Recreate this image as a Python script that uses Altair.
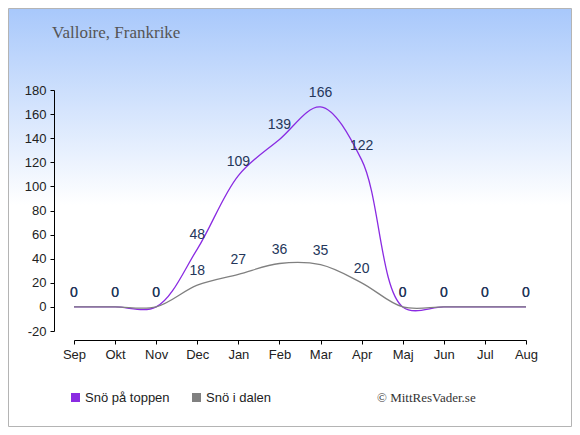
import altair as alt
import pandas as pd

months = ["Sep", "Okt", "Nov", "Dec", "Jan", "Feb", "Mar", "Apr", "Maj", "Jun", "Jul", "Aug"]
snow_top = [0, 0, 0, 48, 109, 139, 166, 122, 0, 0, 0, 0]
snow_valley = [0, 0, 0, 18, 27, 36, 35, 20, 0, 0, 0, 0]
series_names = ["Snö på toppen", "Snö i dalen"]
line_colors = ["#8a2be2", "#808080"]
y_ticks = [-20, 0, 20, 40, 60, 80, 100, 120, 140, 160, 180]
title_text = "Valloire, Frankrike"
credit_text = "© MittResVader.se"

W, H = 452, 241
PL, PT, PR, PB = 66, 82, 46, 96

rows = []
for i, m in enumerate(months):
    rows.append({"i": i, "month": m, "value": snow_top[i], "series": series_names[0]})
    rows.append({"i": i, "month": m, "value": snow_valley[i], "series": series_names[1]})
df = pd.DataFrame(rows)

one = pd.DataFrame({"a": [0]})

bg = alt.Chart(one).mark_rect(
    color=alt.Gradient(
        gradient="linear", x1=0, y1=0, x2=0, y2=1,
        stops=[alt.GradientStop(offset=0, color="#a8c8fb"),
               alt.GradientStop(offset=0.47, color="#ffffff"),
               alt.GradientStop(offset=1, color="#ffffff")]),
    stroke="#b4b4b4", strokeWidth=1,
).encode(
    x=alt.value(-PL + 0.5), x2=alt.value(W + PR - 0.5),
    y=alt.value(-PT + 0.5), y2=alt.value(H + PB - 0.5),
)

xenc = alt.X("i:Q", scale=alt.Scale(domain=[0, 11], nice=False),
             axis=alt.Axis(values=list(range(12)),
                           labelExpr="['" + "','".join(months) + "'][datum.value]",
                           offset=9, grid=False, tickSize=4, domainColor="#000",
                           tickColor="#000", labelColor="#222", labelFontSize=13,
                           labelFont="Liberation Sans", labelPadding=4, title=None,
                           labelOverlap=False, labelFlush=False, labelBound=False,
                           zindex=1))
yenc = alt.Y("value:Q", scale=alt.Scale(domain=[-20, 180], nice=False, zero=False),
             axis=alt.Axis(values=y_ticks, offset=20, grid=False, tickSize=4,
                           labelExpr="'' + datum.value",
                           domainColor="#000", tickColor="#000", labelColor="#222",
                           labelFontSize=13, labelFont="Liberation Sans",
                           labelOverlap=False, labelFlush=False, labelBound=False,
                           labelPadding=4, title=None, zindex=1))

color = alt.Color(
    "series:N",
    scale=alt.Scale(domain=series_names, range=line_colors),
    legend=alt.Legend(
        orient="none", legendX=-5, legendY=301, direction="horizontal", title=None,
        symbolType="square", symbolSize=1, symbolStrokeWidth=8, symbolOpacity=1,
        labelFontSize=13, labelFont="Liberation Sans", labelColor="#222",
        labelOffset=3, columnPadding=10, zindex=1))

lines = alt.Chart(df).mark_line(interpolate="catmull-rom", strokeWidth=1.3).encode(
    x=xenc, y=yenc, color=color, order=alt.Order("i:Q"))

labels = alt.Chart(df).mark_text(
    dy=-14, fontSize=14, font="Liberation Sans", color="#24365a"
).encode(x=xenc, y=yenc, text="value:Q")

title = alt.Chart(one).mark_text(
    text=title_text, font="Liberation Serif", fontSize=17, color="#555555",
    align="left", baseline="alphabetic"
).encode(x=alt.value(-22), y=alt.value(-52))

credit = alt.Chart(one).mark_text(
    text=credit_text, font="Liberation Serif", fontSize=13, color="#333333",
    align="left", baseline="middle"
).encode(x=alt.value(303), y=alt.value(308))

chart = alt.layer(bg, lines, labels, title, credit).properties(
    width=W, height=H,
    autosize=alt.AutoSizeParams(type="none"),
    padding={"left": PL, "top": PT, "right": PR, "bottom": PB},
).configure_view(stroke=None)

chart.save("out.html", embed_options={"renderer": "svg", "actions": False})
